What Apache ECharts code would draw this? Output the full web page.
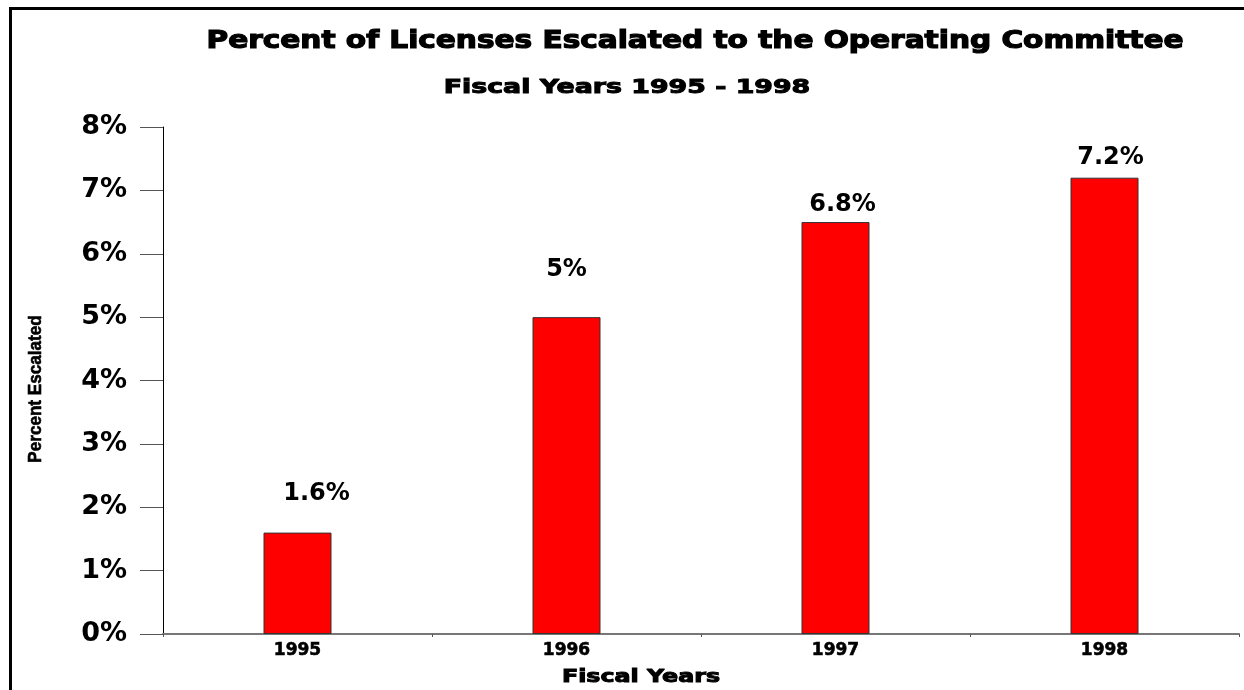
<!DOCTYPE html>
<html lang="en">
  <head>
    <meta charset="UTF-8" />
    <title>Percent of Licenses Escalated</title>
    <script src="https://cdn.jsdelivr.net/npm/echarts@6.0.0/dist/echarts.min.js"></script>
    <style>
      html, body { margin: 0; padding: 0; background: #fff; }
      #frame { position: absolute; left: 9px; top: 7px; width: 1235px; height: 683px;
               border-left: 3px solid #000; border-top: 3px solid #000; box-sizing: border-box; }
    </style>
  </head>
  <body>
    <div id="frame"></div>
    <div id="main" style="position: absolute; left: 0; top: 0; width: 1244px; height: 690px"></div>
    <script type="text/javascript">
      const years = ["1995", "1996", "1997", "1998"];
      // bar heights as drawn, and the labels printed above them
      const escalated = [1.6, 5.0, 6.5, 7.2];
      const valueLabels = ["1.6%", "5%", "6.8%", "7.2%"];

      // label placement above each bar (gap, horizontal shift) - as in the original
      const labelGaps = [27, 35, 5, 8];
      const labelShift = [19, 0, 7, 6];

      // heavy, wide text (the original uses an Arial Black style face)
      function stretchedText(text, x, y, size, sx, family, rot, stroke) {
        return {
          type: "text",
          x: x, y: y, scaleX: sx, rotation: rot || 0,
          style: {
            text: text, x: 0, y: 0,
            font: "bold " + size + "px " + (family || "'DejaVu Sans'"),
            fill: "#000", stroke: "#000", lineWidth: stroke,
            align: "center", verticalAlign: "middle",
          },
        };
      }

      let myChart = echarts.init(document.getElementById("main"));
      let options = {
        animation: false,
        graphic: [
          stretchedText("Percent of Licenses Escalated to the Operating Committee", 695, 42, 24, 1.232, null, 0, 1.2),
          stretchedText("Fiscal Years 1995 - 1998", 627, 88, 19, 1.41, null, 0, 1),
          stretchedText("Fiscal Years", 641, 677, 18, 1.32, null, 0, 1),
          stretchedText("Percent Escalated", 36, 389, 19, 0.9, "'Liberation Sans'", Math.PI / 2, 0.6),
        ],
        grid: { left: 163, right: 5, top: 127, bottom: 56, outerBoundsMode: "none" },
        xAxis: {
          type: "category",
          data: years,
          axisLine: { lineStyle: { color: "#777", width: 2 } },
          axisTick: { show: true, length: 3, lineStyle: { color: "#555" } },
          axisLabel: {
            fontFamily: "DejaVu Sans", fontWeight: "bold", fontSize: 17, color: "#000", margin: 8,
            textBorderColor: "#000", textBorderWidth: 0.6,
          },
        },
        yAxis: {
          type: "value",
          min: 0, max: 8, interval: 1,
          axisLine: { show: true, lineStyle: { color: "#000", width: 1 } },
          axisTick: { show: true, inside: false, length: 23, lineStyle: { color: "#555" } },
          axisLabel: { formatter: "{value}%", fontFamily: "DejaVu Sans", fontWeight: "bold", fontSize: 27, color: "#000", margin: 36 },
          splitLine: { show: false },
        },
        series: [
          {
            type: "bar",
            barWidth: 68,
            itemStyle: { color: "#ff0000", borderColor: "#333", borderWidth: 1 },
            data: escalated.map((v, i) => ({
              value: v,
              label: {
                show: true,
                position: "top",
                distance: labelGaps[i],
                offset: [labelShift[i], 0],
                formatter: valueLabels[i],
                fontFamily: "DejaVu Sans", fontWeight: "bold", fontSize: 24, color: "#000",
              },
            })),
          },
        ],
      };
      myChart.setOption(options);
    </script>
  </body>
</html>
